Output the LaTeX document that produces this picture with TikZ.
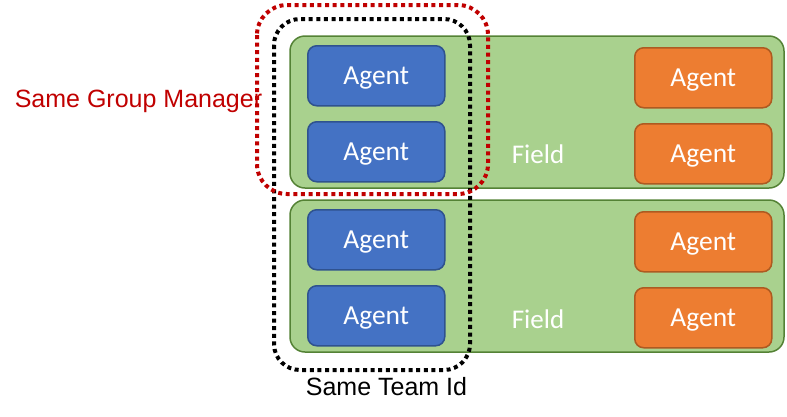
\documentclass[tikz,border=0pt]{standalone}
\usepackage{fontspec}
\setmainfont{Carlito}
\newfontfamily\arialfont{Liberation Sans}
\begin{document}
\begin{tikzpicture}[x=1pt,y=-1pt,
  field/.style={draw=fieldborder,fill=fieldfill,line width=1.5pt,rounded corners=15pt},
  agentbox/.style={rounded corners=9pt,line width=1.5pt,minimum width=137pt,minimum height=60pt,anchor=north west,inner sep=0pt,text depth=0pt,text=white,font=\fontsize{27.5}{30}\selectfont},
  blueagent/.style={agentbox,draw=blueborder,fill=bluefill},
  orangeagent/.style={agentbox,draw=orangeborder,fill=orangefill},
  fieldlabel/.style={text=white,font=\fontsize{27}{30}\selectfont,inner sep=0pt,text depth=0pt},
  dotline/.style={line width=4pt,dash pattern=on 4pt off 3.6pt},
  groupline/.style={dotline,draw=groupred,rounded corners=30pt},
  teamline/.style={dotline,draw=black,rounded corners=26pt},
  caption/.style={font=\arialfont\fontsize{25}{28}\selectfont,inner sep=0pt}
]
\definecolor{fieldfill}{HTML}{A9D18E}
\definecolor{fieldborder}{HTML}{548235}
\definecolor{bluefill}{HTML}{4472C4}
\definecolor{blueborder}{HTML}{2F528F}
\definecolor{orangefill}{HTML}{ED7D31}
\definecolor{orangeborder}{HTML}{AE5A21}
\definecolor{groupred}{HTML}{C00000}
\useasboundingbox (0,0) rectangle (787,416);

% fields
\draw[field] (290,36) rectangle (784,188);
\draw[field] (290,200) rectangle (784,352);

% agents
\node[blueagent] (b1) at (307,45) {Agent};
\node[blueagent] (b2) at (307,121) {Agent};
\node[blueagent] (b3) at (307,209) {Agent};
\node[blueagent] (b4) at (307,285) {Agent};
\node[orangeagent] (o1) at (634,47) {Agent};
\node[orangeagent] (o2) at (634,123) {Agent};
\node[orangeagent] (o3) at (634,211) {Agent};
\node[orangeagent] (o4) at (634,287) {Agent};

% field labels
\node[fieldlabel] (f1) at (538,154) {Field};
\node[fieldlabel] (f2) at (538,319) {Field};

% dotted groups
\draw[teamline] (274,19) rectangle (470,370);
\draw[groupline] (257,5) rectangle (488,194);

% captions
\node[caption,text=groupred] (gm) at (138.5,101) {Same Group Manager};
\node[caption,text=black] (ti) at (386.5,387) {Same Team Id};
\end{tikzpicture}
\end{document}
